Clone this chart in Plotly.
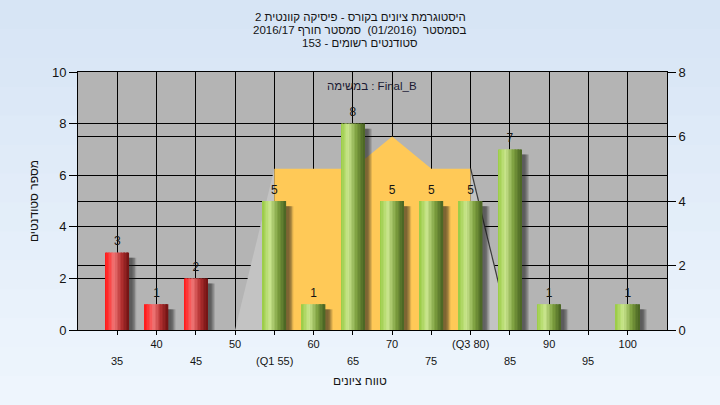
import plotly.graph_objects as go

# ---------------- data ----------------
categories = [35, 40, 45, 50, 55, 60, 65, 70, 75, 80, 85, 90, 95, 100]
counts = [3, 1, 2, 0, 5, 1, 8, 5, 5, 5, 7, 1, 0, 1]
tick_labels = ["35", "40", "45", "50", "(Q1 55)", "60", "65", "70", "75",
               "(Q3 80)", "85", "90", "95", "100"]
bar_kind = ["fail", "fail", "fail", "fail", "pass", "pass", "pass", "pass",
            "pass", "pass", "pass", "pass", "pass", "pass"]

# distribution outline (right axis)
dist_x = [50, 55, 60, 65, 70, 75, 80, 85]
dist_y = [0, 5, 5, 5, 6, 5, 5, 0]
q1_index, q3_index = 1, 6

title_lines = [
    "היסטוגרמת ציונים בקורס - פיסיקה קוונטית 2",
    "בסמסטר  (01/2016)  סמסטר חורף 2016/17",
    "סטודנטים רשומים - 153",
]
task_label = "במשימה : Final_B"
x_title = "טווח ציונים"
y_title = "מספר סטודנטים"

# ---------------- style ----------------
FONT = "Liberation Sans, DejaVu Sans, Arial, sans-serif"
TXT = "#141414"
BAR_W = 3.0
N_STRIPS = 16

red_stops = [(0.0, (255, 22, 22)), (0.12, (255, 45, 45)), (0.38, (240, 118, 118)),
             (0.70, (178, 48, 48)), (1.0, (112, 18, 18))]
green_stops = [(0.0, (152, 202, 66)), (0.33, (202, 230, 142)), (0.68, (124, 158, 62)),
               (1.0, (72, 98, 34))]


def grad(stops, t):
    for (t0, c0), (t1, c1) in zip(stops[:-1], stops[1:]):
        if t <= t1:
            f = (t - t0) / (t1 - t0)
            return "rgb(%d,%d,%d)" % tuple(round(a + (b - a) * f) for a, b in zip(c0, c1))
    return "rgb(%d,%d,%d)" % stops[-1][1]


fig = go.Figure()

# distribution areas on right axis (y)
fig.add_trace(go.Scatter(x=dist_x[:q1_index + 1], y=dist_y[:q1_index + 1], yaxis="y",
                         mode="lines", line=dict(width=0), fill="tozeroy",
                         fillcolor="#C3C3C3", hoverinfo="skip", showlegend=False))
fig.add_trace(go.Scatter(x=dist_x[q1_index:q3_index + 1], y=dist_y[q1_index:q3_index + 1],
                         yaxis="y", mode="lines", line=dict(width=0), fill="tozeroy",
                         fillcolor="#FFC957", hoverinfo="skip", showlegend=False))
fig.add_trace(go.Scatter(x=dist_x[q3_index:], y=dist_y[q3_index:], yaxis="y",
                         mode="lines", line=dict(width=1.2, color="#3A3A3A"), fill="tozeroy",
                         fillcolor="#C3C3C3", hoverinfo="skip", showlegend=False))

# bar shadows (left axis, y2)
for d, op in [(0.40, 0.16), (0.58, 0.22), (0.76, 0.22), (0.92, 0.14)]:
    fig.add_trace(go.Bar(x=categories, y=[max(v - 0.2, 0) for v in counts], yaxis="y2",
                         width=BAR_W, offset=-BAR_W / 2 + d,
                         marker=dict(color="rgba(25,25,25,%.2f)" % op, line=dict(width=0)),
                         hoverinfo="skip", showlegend=False))

# cylindrical bars built from vertical strips
sw = BAR_W / N_STRIPS
for k in range(N_STRIPS):
    t = (k + 0.5) / N_STRIPS
    cols = [grad(red_stops if kind == "fail" else green_stops, t) for kind in bar_kind]
    fig.add_trace(go.Bar(x=categories, y=counts, yaxis="y2",
                         width=sw * 1.25 if k < N_STRIPS - 1 else sw,
                         offset=-BAR_W / 2 + k * sw,
                         marker=dict(color=cols, line=dict(width=0)),
                         hoverinfo="skip", showlegend=False))

# value labels (invisible markers push the text a little above the bar tops)
fig.add_trace(go.Scatter(x=categories, y=counts, yaxis="y2", mode="markers+text",
                         marker=dict(size=5, color="rgba(0,0,0,0)"),
                         text=[str(v) if v > 0 else "" for v in counts],
                         textposition="top center",
                         textfont=dict(family=FONT, size=12, color=TXT),
                         hoverinfo="skip", showlegend=False))

# background gradient bands (paper) + gray plot area
shapes = []
H, T, B = 405, 72, 75
PH = H - T - B
nb = 14
top_c, bot_c = (214, 228, 245), (239, 246, 253)
for i in range(nb):
    p0 = i / nb * H
    p1 = (i + 1) / nb * H + 1
    f = (i + 0.5) / nb
    c = tuple(round(a + (b - a) * f) for a, b in zip(top_c, bot_c))
    shapes.append(dict(type="rect", xref="paper", yref="paper", layer="below",
                       x0=-0.2, x1=1.2, y0=(H - B - p1) / PH, y1=(H - B - p0) / PH,
                       line=dict(width=0), fillcolor="rgb(%d,%d,%d)" % c))
shapes.append(dict(type="rect", xref="paper", yref="paper", layer="below",
                   x0=0, x1=1, y0=0, y1=1, line=dict(width=0), fillcolor="#B4B4B4"))

annotations = []
for i, line in enumerate(title_lines):
    annotations.append(dict(text=line, xref="paper", yref="paper", x=0.479,
                            y=(330 - (17 + 13 * i)) / PH, yanchor="middle", showarrow=False,
                            font=dict(family=FONT, size=11.5, color=TXT)))
annotations.append(dict(text=task_label, xref="paper", yref="paper", x=0.499,
                        y=(330 - 86) / PH, yanchor="middle", showarrow=False,
                        font=dict(family=FONT, size=11.5, color="#1a1a33")))
# lower row of staggered tick labels
for i, (c, lab) in enumerate(zip(categories, tick_labels)):
    if i % 2 == 0:
        annotations.append(dict(text=lab, xref="x", yref="paper", x=c, y=0,
                                yanchor="middle", yshift=-31, showarrow=False,
                                font=dict(family=FONT, size=11, color=TXT)))
annotations.append(dict(text=x_title, xref="paper", yref="paper", x=0.479, y=0,
                        yanchor="middle", yshift=-51, showarrow=False,
                        font=dict(family=FONT, size=12, color=TXT)))

fig.update_layout(
    width=720, height=405,
    margin=dict(l=78, r=53, t=T, b=B),
    paper_bgcolor="#E4EEF9",
    plot_bgcolor="#B4B4B4",
    barmode="overlay",
    showlegend=False,
    shapes=shapes,
    annotations=annotations,
    xaxis=dict(range=[30, 105], tickmode="array", tickvals=categories,
               ticktext=[lab if i % 2 == 1 else "" for i, lab in enumerate(tick_labels)],
               showgrid=True, gridcolor="black", gridwidth=1,
               ticks="outside", ticklen=4, tickcolor="black",
               showline=True, linecolor="black", linewidth=1, mirror=True,
               zeroline=False, tickfont=dict(family=FONT, size=11, color=TXT),
               automargin=False),
    yaxis=dict(side="right", range=[0, 8], dtick=2, showgrid=True, gridcolor="black",
               gridwidth=1, ticks="outside", ticklen=8, tickcolor="black",
               showline=True, linecolor="black", linewidth=1, zeroline=False,
               tickfont=dict(family=FONT, size=13, color=TXT), automargin=False),
    yaxis2=dict(side="left", overlaying="y", range=[0, 10], dtick=2, showgrid=True,
                gridcolor="black", gridwidth=1, ticks="outside", ticklen=8,
                tickcolor="black", showline=True, linecolor="black", linewidth=1,
                zeroline=False, tickfont=dict(family=FONT, size=13, color=TXT),
                title=dict(text=y_title, font=dict(family=FONT, size=12, color=TXT),
                           standoff=10),
                automargin=False),
)

fig.write_html("out.html", config={"displayModeBar": False},
               post_script="document.body.style.margin='0';")
